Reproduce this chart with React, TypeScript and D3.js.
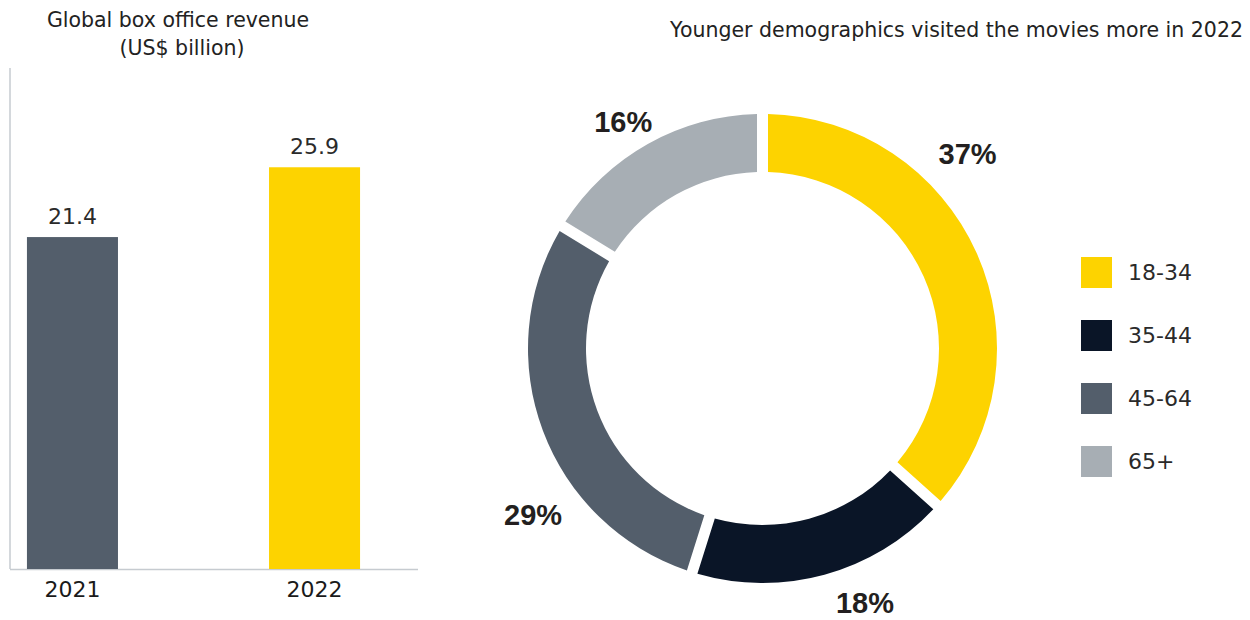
import React from "react";
import * as d3 from "d3";

const years = ["2021", "2022"];
const revenue = [21.4, 25.9];
const barColors = ["#535E6B", "#FDD300"];

const ageGroups = ["18-34", "35-44", "45-64", "65+"];
const shares = [37, 18, 29, 16];
const sliceColors = ["#FDD300", "#0A1527", "#535E6B", "#A7AEB4"];

const W = 1250;
const H = 620;

export default function App() {
  // bar chart
  const y = d3.scaleLinear().domain([0, 32.3]).range([569, 68]);
  const x = d3.scaleBand().domain(years).range([10, 377]).paddingInner(0.624).paddingOuter(0.07);

  // donut
  const cx = 762.5, cy = 348.5, R = 234.5, r = 176.5;
  const pie = d3.pie<number>().sort(null).value((d) => d).padAngle(11 / R);
  const arcs = pie(shares);
  const arc = d3.arc<d3.PieArcDatum<number>>().innerRadius(r).outerRadius(R).padRadius(R);
  const labelNudge = [
    { da: -19.5, rr: 283 },
    { da: -6.7, rr: 273.5 },
    { da: -15.4, rr: 283.4 },
    { da: -2.2, rr: 266.7 },
  ];

  const font = "'DejaVu Sans', sans-serif";
  const boldFont = "'Liberation Sans', Arial, sans-serif";

  return (
    <svg width={W} height={H} style={{ position: "absolute", left: 0, top: 0, background: "#fff" }}>
      {/* left titles */}
      <text x={178} y={27} textAnchor="middle" fontFamily={font} fontSize={20.5} fill="#222">
        Global box office revenue
      </text>
      <text x={182} y={55} textAnchor="middle" fontFamily={font} fontSize={20.5} fill="#222">
        (US$ billion)
      </text>

      {/* axes */}
      <line x1={10} x2={10} y1={y.range()[1]} y2={y(0)} stroke="#C6CBD0" strokeWidth={1.5} />
      <line x1={10} x2={418} y1={y(0) + 0.5} y2={y(0) + 0.5} stroke="#C6CBD0" strokeWidth={1.5} />

      {years.map((yr, i) => (
        <g key={yr}>
          <rect x={x(yr)} y={y(revenue[i])} width={x.bandwidth()} height={y(0) - y(revenue[i])} fill={barColors[i]} />
          <text x={(x(yr) as number) + x.bandwidth() / 2} y={y(revenue[i]) - 13} textAnchor="middle" fontFamily={font} fontSize={22} fill="#2a2a2a">
            {revenue[i].toFixed(1)}
          </text>
          <text x={(x(yr) as number) + x.bandwidth() / 2} y={597} textAnchor="middle" fontFamily={font} fontSize={22} fill="#1a1a1a">
            {yr}
          </text>
        </g>
      ))}

      {/* right title */}
      <text x={1243} y={37} textAnchor="end" fontFamily={font} fontSize={20.5} fill="#222">
        Younger demographics visited the movies more in 2022
      </text>

      {/* donut */}
      <g transform={`translate(${cx},${cy})`}>
        {arcs.map((a, i) => (
          <path key={ageGroups[i]} d={arc(a) as string} fill={sliceColors[i]} />
        ))}
        {arcs.map((a, i) => {
          const mid = (a.startAngle + a.endAngle) / 2 + (labelNudge[i].da * Math.PI) / 180;
          const lx = Math.sin(mid) * labelNudge[i].rr;
          const ly = -Math.cos(mid) * labelNudge[i].rr;
          return (
            <text key={"l" + i} x={lx} y={ly} dy="0.36em" textAnchor="middle" fontFamily={boldFont} fontWeight="bold" fontSize={29} fill="#231F20">
              {shares[i]}%
            </text>
          );
        })}
      </g>

      {/* legend */}
      {ageGroups.map((g, i) => (
        <g key={g} transform={`translate(1081,${257 + i * 63})`}>
          <rect width={31} height={31} fill={sliceColors[i]} />
          <text x={47} y={15.5} dy="0.36em" fontFamily={font} fontSize={22} fill="#2a2a2a">
            {g}
          </text>
        </g>
      ))}
    </svg>
  );
}
